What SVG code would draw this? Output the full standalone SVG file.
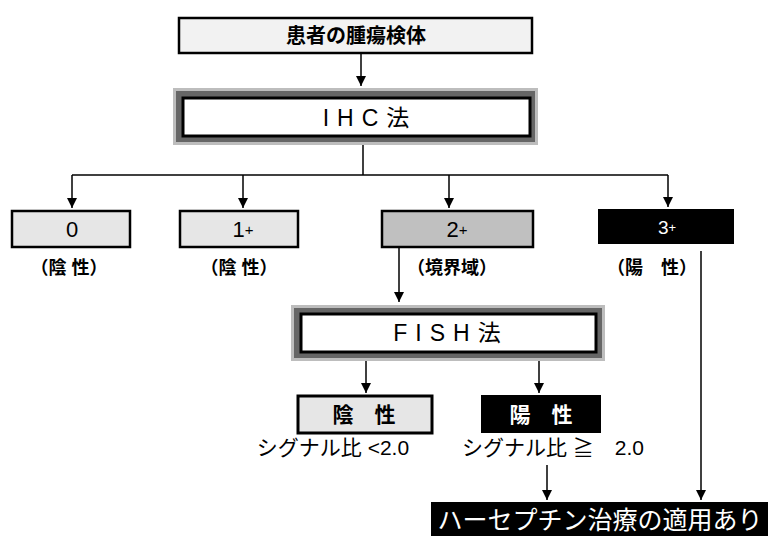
<svg xmlns="http://www.w3.org/2000/svg" width="771" height="536" viewBox="0 0 771 536">
<defs>
<marker id="ah" viewBox="0 0 10 10" refX="10" refY="5" markerWidth="10" markerHeight="10" markerUnits="userSpaceOnUse" orient="auto">
<path d="M0,0 L10,5 L0,10 z" fill="#000"/>
</marker>
</defs>
<style>
text{font-family:"Liberation Sans","Noto Sans CJK JP",sans-serif;text-anchor:middle;dominant-baseline:central;fill:#000}
.b{font-weight:bold}
.w{fill:#fff}
.line{stroke:#000;stroke-width:1.5;fill:none}
.arr{stroke:#000;stroke-width:1.5;fill:none;marker-end:url(#ah)}
.box{stroke:#000;stroke-width:2.5}
</style>
<rect width="771" height="536" fill="#fff"/>
<g id="connectors">
<line class="arr" x1="361" y1="54" x2="361" y2="86"/>
<line class="line" x1="363" y1="145" x2="363" y2="175"/>
<line class="line" x1="72" y1="175" x2="668" y2="175"/>
<line class="arr" x1="72" y1="175" x2="72" y2="208"/>
<line class="arr" x1="243" y1="175" x2="243" y2="208"/>
<line class="arr" x1="449" y1="175" x2="449" y2="208"/>
<line class="arr" x1="668" y1="175" x2="668" y2="207"/>
<line class="arr" x1="399" y1="248" x2="399" y2="302"/>
<line class="arr" x1="366" y1="361" x2="366" y2="393"/>
<line class="arr" x1="539" y1="361" x2="539" y2="393"/>
<line class="arr" x1="547" y1="465" x2="547" y2="500"/>
<line class="arr" x1="701" y1="251" x2="701" y2="500"/>
</g>
<g id="specimen">
<rect class="box" x="179" y="18" width="353" height="35" fill="#f2f2f2"/>
<text class="b" x="356" y="36" font-size="20">患者の腫瘍検体</text>
</g>
<g id="ihc">
<rect x="173" y="88" width="365" height="57" fill="#bdbdbd"/>
<rect x="176" y="91" width="359" height="51" fill="#666"/>
<rect x="183" y="98" width="347" height="38" fill="#fff" stroke="#000" stroke-width="3"/>
<text x="370" y="118" font-size="23" letter-spacing="8">IHC法</text>
</g>
<g id="score0">
<rect class="box" x="12" y="211" width="118" height="36" fill="#e6e6e6"/>
<text x="72" y="229" font-size="22">0</text>
<text class="b" x="69" y="268" font-size="18">（陰 性）</text>
</g>
<g id="score1">
<rect class="box" x="180" y="211" width="118" height="36" fill="#e6e6e6"/>
<text x="243" y="229" font-size="22">1<tspan font-size="15">+</tspan></text>
<text class="b" x="239" y="268" font-size="18">（陰 性）</text>
</g>
<g id="score2">
<rect class="box" x="382" y="211" width="151" height="36" fill="#c0c0c0"/>
<text x="457" y="229" font-size="22">2<tspan font-size="15">+</tspan></text>
<text class="b" x="452" y="268" font-size="18">（境界域）</text>
</g>
<g id="score3">
<rect x="598" y="209" width="136" height="35" fill="#000"/>
<text class="w" x="667" y="227" font-size="19">3<tspan font-size="13">+</tspan></text>
<text class="b" x="652" y="268" font-size="18">（陽　性）</text>
</g>
<g id="fish">
<rect x="291" y="305" width="314" height="56" fill="#bdbdbd"/>
<rect x="294" y="308" width="308" height="50" fill="#666"/>
<rect x="301" y="314" width="295" height="38" fill="#fff" stroke="#000" stroke-width="3"/>
<text x="451" y="333" font-size="23" letter-spacing="8">FISH法</text>
</g>
<g id="fish-neg">
<rect x="298" y="396" width="134" height="37" fill="#e6e6e6" stroke="#000" stroke-width="3"/>
<text class="b" x="364" y="414" font-size="21">陰　性</text>
<text x="333" y="447" font-size="21">シグナル比 &lt;2.0</text>
</g>
<g id="fish-pos">
<rect x="481" y="395" width="120" height="38" fill="#000"/>
<text class="b w" x="541" y="414" font-size="21">陽　性</text>
<text x="553" y="447" font-size="21">シグナル比 ≧　2.0</text>
</g>
<g id="herceptin">
<rect x="431" y="502" width="337" height="36" fill="#000"/>
<text class="w" x="600" y="520" font-size="25">ハーセプチン治療の適用あり</text>
</g>
</svg>
